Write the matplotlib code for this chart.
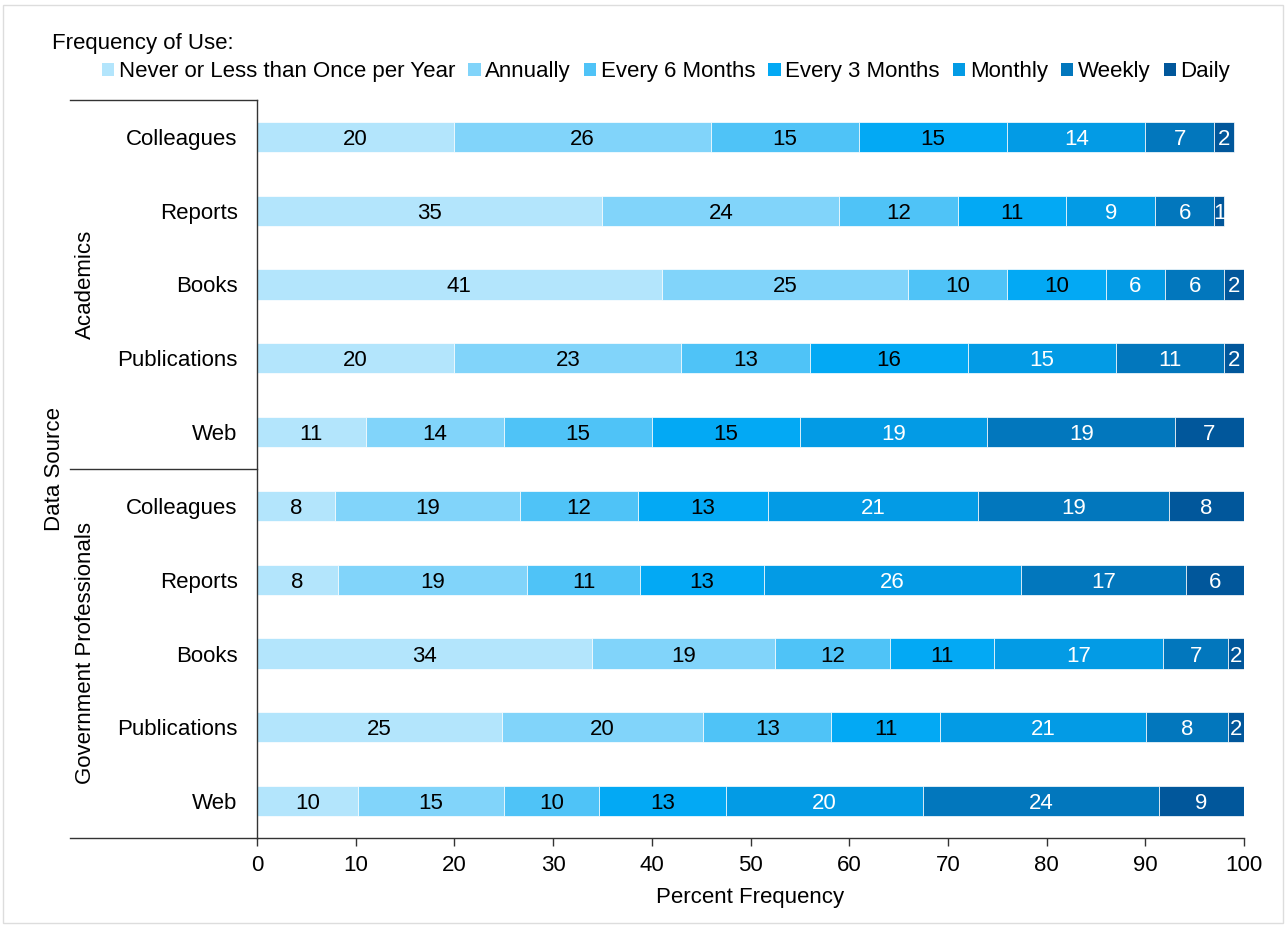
import matplotlib
matplotlib.use("Agg")
import numpy as np
from matplotlib import pyplot as plt
from matplotlib.patches import Patch, Rectangle
from matplotlib.lines import Line2D

plt.rcParams['font.family'] = ['Liberation Sans', 'DejaVu Sans']

# categories, top to bottom
sources = ['Colleagues', 'Reports', 'Books', 'Publications', 'Web']
groups = ['Academics', 'Government Professionals']
freq_labels = ['Never or Less than Once per Year', 'Annually', 'Every 6 Months',
               'Every 3 Months', 'Monthly', 'Weekly', 'Daily']
colors = ['#b3e5fc', '#81d4fa', '#4fc3f7', '#03a9f4', '#039be5', '#0277bd', '#01579b']
text_colors = ['black', 'black', 'black', 'black', 'white', 'white', 'white']

# percent per frequency, one list per frequency class (rows follow the chart order)
never    = [20, 35, 41, 20, 11,   7.9,  8.2, 33.9, 24.8, 10.2]
annually = [26, 24, 25, 23, 14,  18.7, 19.2, 18.6, 20.4, 14.8]
every6m  = [15, 12, 10, 13, 15,  12.0, 11.4, 11.6, 13.0,  9.7]
every3m  = [15, 11, 10, 16, 15,  13.2, 12.6, 10.6, 11.0, 12.8]
monthly  = [14,  9,  6, 15, 19,  21.2, 26.0, 17.1, 20.9, 20.0]
weekly   = [ 7,  6,  6, 11, 19,  19.4, 16.7,  6.6,  8.3, 23.9]
daily    = [ 2,  1,  2,  2,  7,   7.6,  5.9,  1.6,  1.6,  8.6]

series = [never, annually, every6m, every3m, monthly, weekly, daily]
row_names = sources + sources
n = len(row_names)
FS = 16

fig = plt.figure(figsize=(12.88, 9.26), dpi=100)
ax = fig.add_axes([257 / 1288, 1 - 838 / 926, 987 / 1288, 738 / 926])

y = np.arange(n)
left = np.zeros(n)
for vals, col, tcol in zip(series, colors, text_colors):
    vals = np.array(vals, dtype=float)
    bars = ax.barh(y, vals, left=left, height=0.41, color=col,
                   edgecolor='white', linewidth=0.5)
    for b, v in zip(bars, vals):
        ax.text(b.get_x() + b.get_width() / 2, b.get_y() + b.get_height() / 2,
                str(int(np.floor(v + 0.5))),
                ha='center', va='center_baseline', fontsize=FS, color=tcol)
    left += vals

ax.set_xlim(0, 100)
ax.set_ylim(n - 0.5, -0.5)
ax.set_xticks(np.arange(0, 101, 10))
ax.set_yticks(y)
ax.set_yticklabels(row_names)
ax.tick_params(axis='x', labelsize=FS, length=6, width=1, color='#333333', pad=6)
ax.tick_params(axis='y', labelsize=FS, length=0, pad=14)
ax.set_xlabel('Percent Frequency', fontsize=FS, labelpad=8)

for s in ['top', 'right']:
    ax.spines[s].set_visible(False)
for s in ['left', 'bottom']:
    ax.spines[s].set_color('#333333')
    ax.spines[s].set_linewidth(1)

# group separators extending left of the axis
x0 = (70 - 257) / 987
tr = ax.get_yaxis_transform()
for yy in [-0.5, 4.5, n - 0.5]:
    ax.add_line(Line2D([x0, 0], [yy, yy], transform=tr, color='#333333',
                       lw=1, clip_on=False))

ax.text(-0.174, 2, groups[0], transform=tr, rotation=90, ha='center',
        va='center', fontsize=FS)
ax.text(-0.174, 7, groups[1], transform=tr, rotation=90, ha='center',
        va='center', fontsize=FS)
ax.text(-0.205, 4.5, 'Data Source', transform=tr, rotation=90, ha='center',
        va='center', fontsize=FS)

# legend
fig.text(52 / 1288, 1 - 44 / 926, 'Frequency of Use:', fontsize=FS,
         ha='left', va='center')
handles = [Patch(facecolor=c, edgecolor='none') for c in colors]
fig.legend(handles, freq_labels, loc='center', bbox_to_anchor=(666 / 1288, 1 - 72 / 926),
           ncol=7, frameon=False, fontsize=FS, handlelength=0.55, handleheight=0.55,
           handletextpad=0.2, columnspacing=0.6, borderpad=0)

# thin light frame around the picture
fig.add_artist(Rectangle((0.002, 0.003), 0.994, 0.992, transform=fig.transFigure,
                         fill=False, edgecolor='#dddddd', lw=1))

fig.savefig('out.png', dpi=100)
